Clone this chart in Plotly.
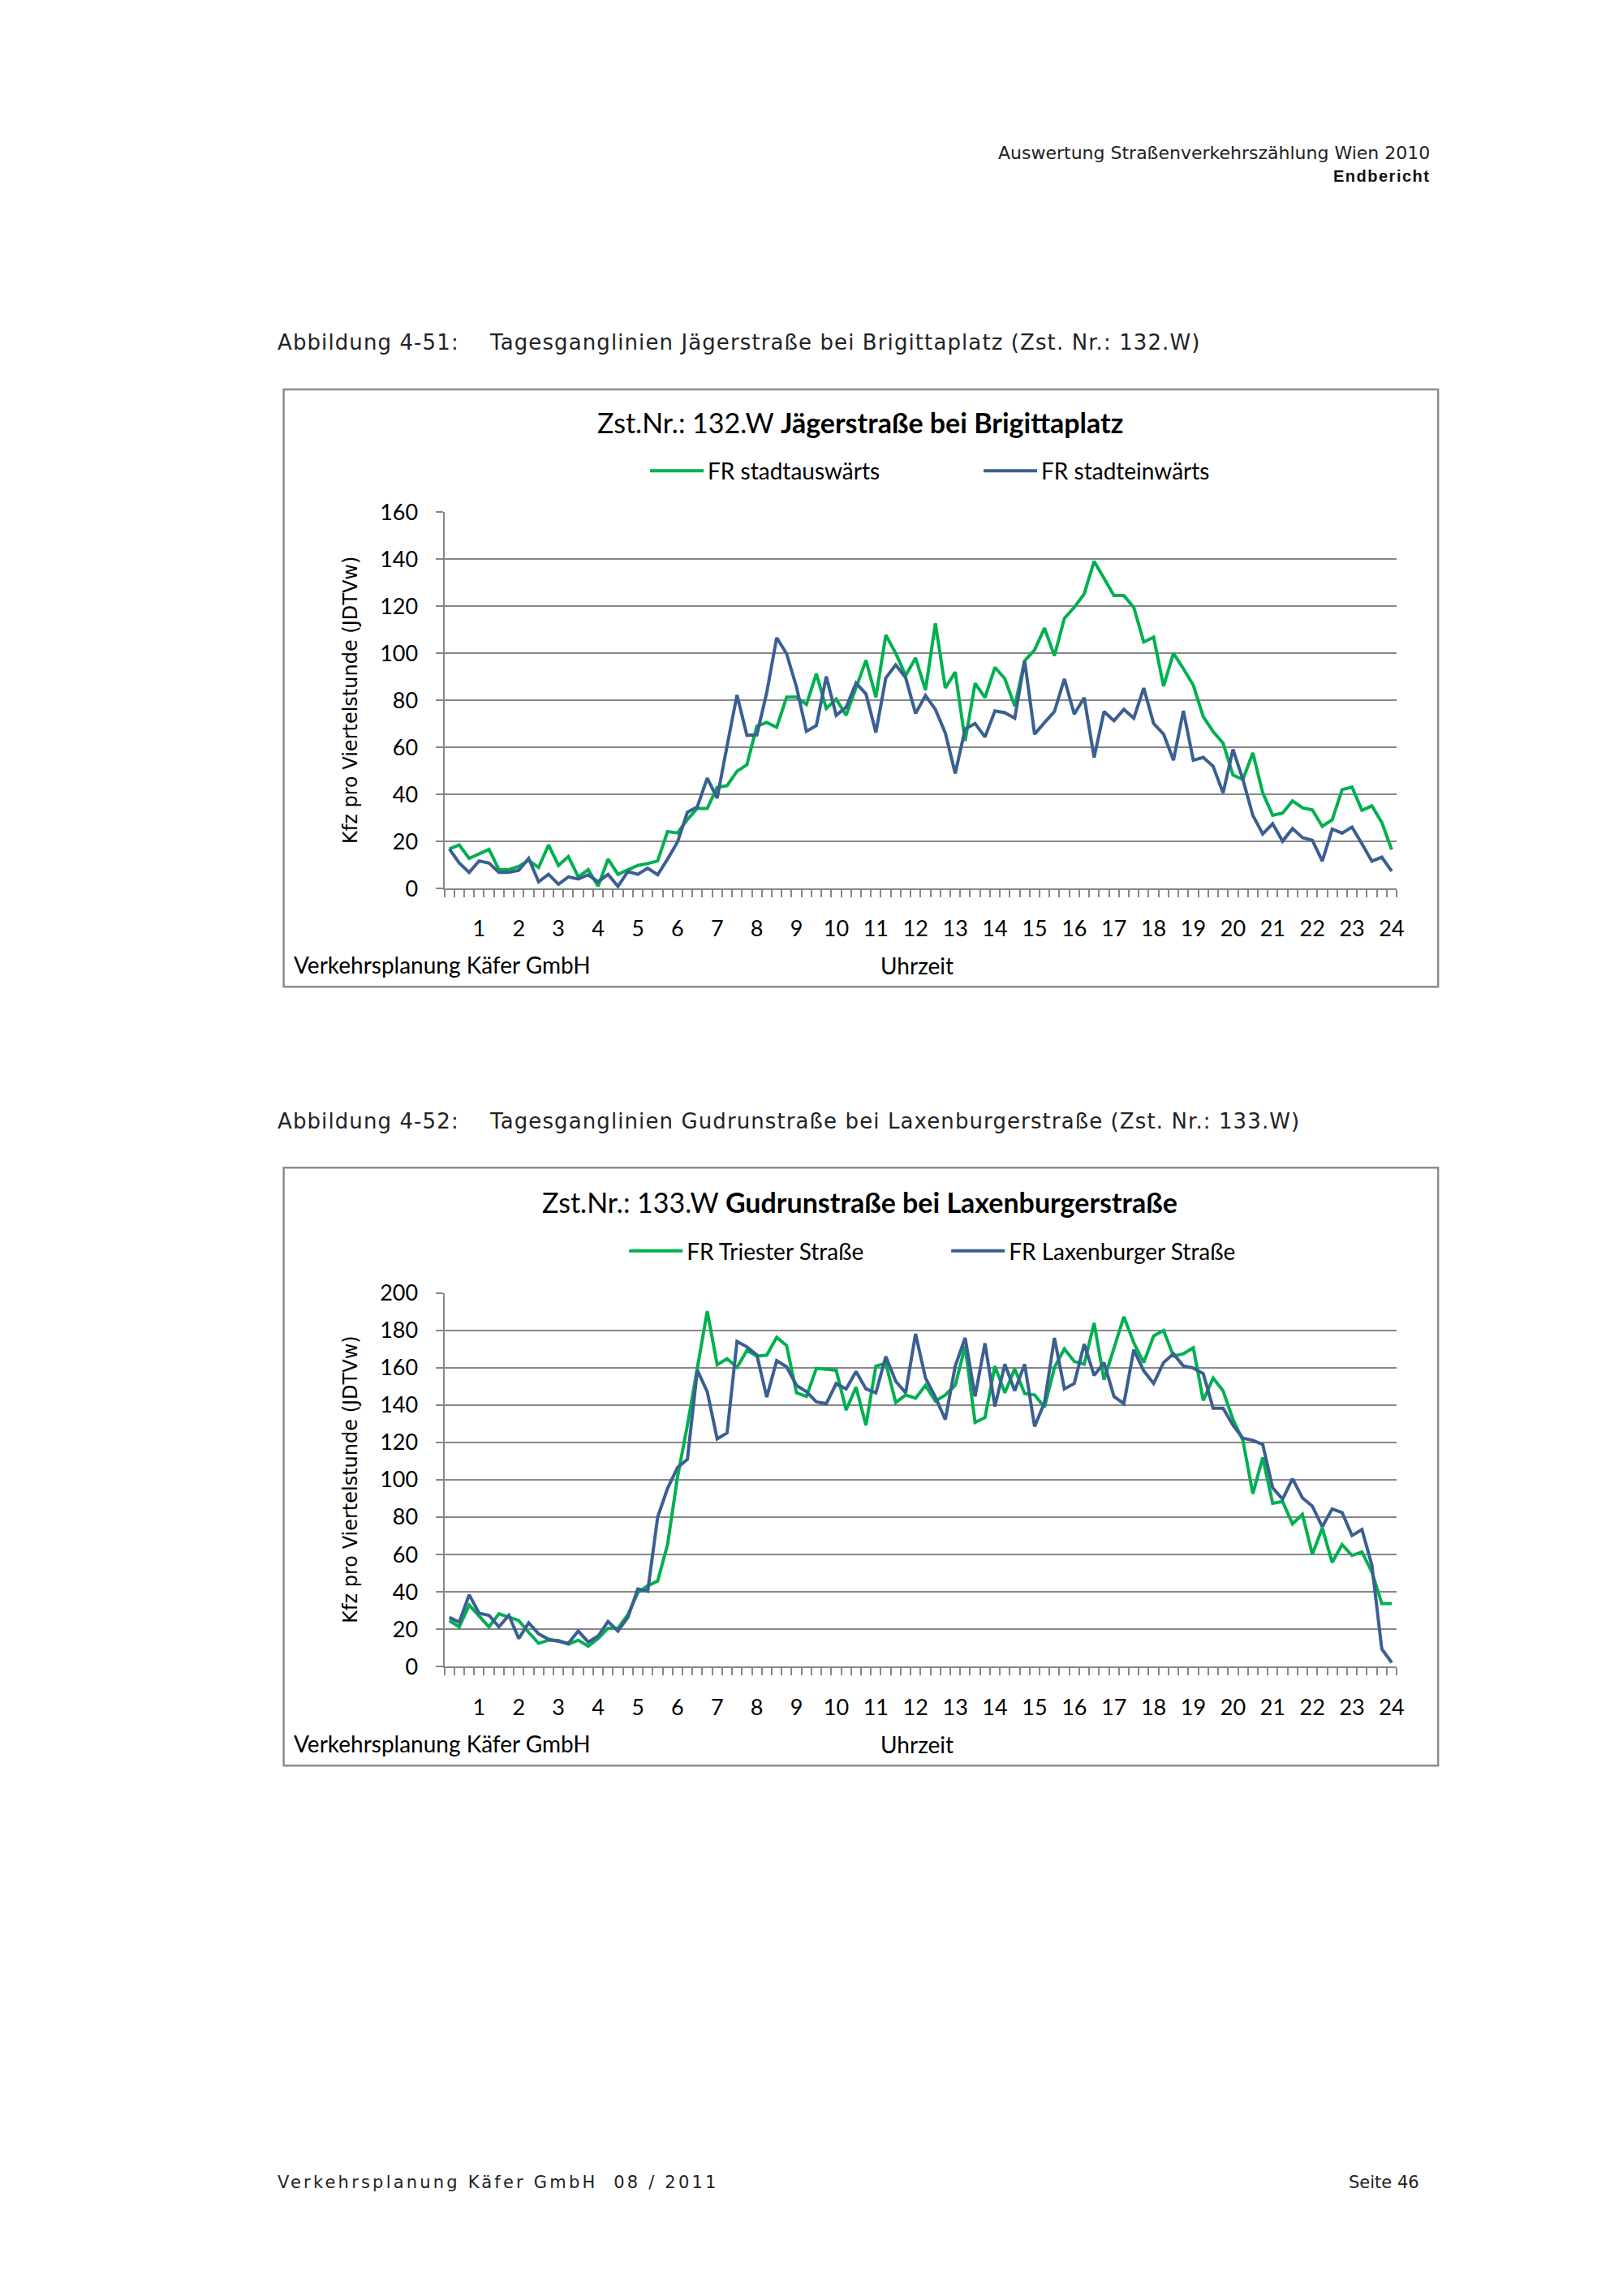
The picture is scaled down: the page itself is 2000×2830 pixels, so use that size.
import plotly.graph_objects as go

W, H = 2000, 2830

# ---------------- data (quarter hours 1..96) ----------------
quarters = list(range(1, 97))
hour_ticks = list(range(4, 97, 4))
hour_labels = [str(h) for h in range(1, 25)]

# Chart 1: Zst.Nr. 132.W Jägerstraße bei Brigittaplatz
stadtauswaerts = [16.8, 18.5, 12.8, 14.8, 16.6, 8, 8, 9.4, 12, 8.9, 18.5, 9.8, 13.6, 4.9, 8, 1,
                  12.5, 6, 8, 9.8, 10.6, 11.7, 24.2, 23.6, 29.3, 34, 34, 43, 43.7, 49.8, 52.6, 69,
                  70.6, 68.5, 81.3, 81.3, 78.2, 91.3, 76.5, 80.5, 73.6, 85.6, 97, 81.3, 107.7, 100, 90.5, 98,
                  84.3, 112.7, 85.2, 92, 62.7, 87.2, 81.1, 94, 89.2, 77.5, 96.8, 101.4, 110.7, 98.9,
                  114.8, 119.5, 125.2, 139.1, 131.8, 124.5, 124.5, 119.5, 104.8, 106.8, 86, 100, 93.4, 86.4,
                  73, 66.7, 61.8, 48.2, 46.3, 57.6, 40.6, 31.1, 32, 37.2, 34.3, 33.4, 26.4, 29.2,
                  42, 43.1, 33.2, 35.1, 28.1, 16.5]
stadteinwaerts = [16.8, 10.8, 6.8, 11.7, 10.8, 6.8, 6.8, 7.7, 12.8, 2.8, 6, 1.8, 4.9, 4, 5.8, 2.8,
                  6, 0.9, 7.2, 6, 8.6, 5.8, 12.5, 19.7, 32.4, 34.7, 46.9, 38.4, 60.6, 82.2, 65.1, 65.3,
                  83.3, 106.6, 99.8, 85.6, 66.8, 69.3, 90.1, 73.6, 77, 87.3, 82.7, 66.3, 89.5, 95, 89.6, 74.4,
                  82, 76.1, 66.1, 48.9, 67.8, 70.1, 64.4, 75.5, 74.7, 72.4, 96.8, 65.6, 70.5, 75.2,
                  89.1, 74.1, 81.1, 55.7, 75.2, 71.3, 76.1, 72.4, 85.2, 70.1, 65.6, 54.5, 75.5, 54.5,
                  55.7, 51.9, 40.6, 59.1, 46.3, 31.1, 23.2, 27.5, 20.1, 25.5, 21.6, 20.5, 11.6, 25.2,
                  23.5, 26.1, 19, 11.6, 13.3, 7.3]

# Chart 2: Zst.Nr. 133.W Gudrunstraße bei Laxenburgerstraße
triester = [24.7, 21.3, 33, 27.2, 21.3, 28.3, 26.4, 24.7, 18.4, 12.5, 14.2, 14, 12, 14.2, 11, 15.1,
            20.6, 20.6, 27.9, 39.6, 43.3, 45.8, 65.3, 101.3, 129.2, 158.6, 190.2, 161.5, 164.8, 160.1, 169.2, 166.2,
            166.7, 176.2, 171.8, 146.5, 144.6, 159.6, 158.9, 158.6, 137.3, 149.5, 129.2, 160.8, 162.3, 141.3, 145.4, 143.6,
            150.5, 142.1, 145.4, 150.5, 171.5, 130.7, 133.3, 160.8, 146.5, 159.3, 146.1, 145.4, 138.8, 160.1,
            170, 163.3, 161.8, 183.8, 153.5, 170.6, 187.2, 173.3, 162.7, 176.9, 179.9, 166.2, 167.4, 170.6,
            142.4, 154.4, 147.6, 132.2, 121.1, 92.5, 111.9, 87.4, 88.4, 76.4, 81.5, 60.2, 74.2, 55.8,
            65.3, 59.5, 61.4, 50.7, 33.8, 33.8]
laxenburger = [26.4, 23.8, 38.5, 28.6, 27.5, 21.3, 27.5, 15, 23.5, 17.6, 14.7, 13.7, 12.5, 19.1, 13.2, 16.4,
               24.2, 19.1, 26.4, 41.6, 40.4, 80, 95.4, 106.5, 110.9, 158.6, 147.1, 121.9, 125.1, 174, 171.1, 166.7,
               144.2, 163.7, 160.4, 150.5, 147.1, 141.7, 140.7, 151.5, 148.6, 157.9, 148.6, 146.5, 165.9, 152.7, 146.5, 178,
               154.5, 144.2, 132.2, 160.8, 175.9, 144.6, 173, 139.2, 161.8, 147.6, 161.8, 128.5, 141.3, 175.9,
               148.6, 151.5, 172.6, 155.8, 162.7, 144.6, 140.7, 169.6, 158.3, 151.5, 162.7, 167.4, 160.8, 159.8,
               156.8, 138.3, 138.3, 129.2, 122.2, 121.1, 118.9, 95.7, 89.6, 100.6, 90.3, 85.9, 74.9, 84.4,
               82.5, 70.2, 73.4, 54.3, 9.5, 2.2]

GREEN = "#00B050"
BLUE = "#3B5F92"
GRID = "#878787"
FONT = "Lato"


def px(x):
    return x / W


def py(y):
    return 1 - y / H


fig = go.Figure()
fig.add_trace(go.Scatter(x=quarters, y=stadtauswaerts, mode="lines", name="FR stadtauswärts",
                         line=dict(color=GREEN, width=4), xaxis="x", yaxis="y", legend="legend"))
fig.add_trace(go.Scatter(x=quarters, y=stadteinwaerts, mode="lines", name="FR stadteinwärts",
                         line=dict(color=BLUE, width=4), xaxis="x", yaxis="y", legend="legend"))
fig.add_trace(go.Scatter(x=quarters, y=triester, mode="lines", name="FR Triester Straße",
                         line=dict(color=GREEN, width=4), xaxis="x2", yaxis="y2", legend="legend2"))
fig.add_trace(go.Scatter(x=quarters, y=laxenburger, mode="lines", name="FR Laxenburger Straße",
                         line=dict(color=BLUE, width=4), xaxis="x2", yaxis="y2", legend="legend2"))

minor_vals = [i + 0.5 for i in range(0, 97)]

PLOT_X0, PLOT_X1 = 542.3, 1721.7


def xaxis_cfg(anchor):
    return dict(domain=[px(PLOT_X0), px(PLOT_X1)], anchor=anchor, range=[0.5, 96.5],
                tickmode="array", tickvals=hour_ticks, ticktext=hour_labels,
                ticks="outside", ticklen=8, tickcolor="rgba(0,0,0,0)",
                minor=dict(tickmode="array", tickvals=minor_vals, ticks="outside", ticklen=9,
                           tickcolor=GRID, tickwidth=2, showgrid=False),
                showline=True, linecolor=GRID, linewidth=2, showgrid=False, zeroline=False,
                tickfont=dict(family=FONT, size=27, color="#000"), ticklabelstandoff=17)


def yaxis_cfg(anchor, dom, top):
    return dict(domain=dom, anchor=anchor, range=[0, top], tickmode="linear", tick0=0, dtick=20,
                ticks="outside", ticklen=9, tickcolor=GRID, tickwidth=2,
                showgrid=True, gridcolor=GRID, gridwidth=2,
                showline=True, linecolor=GRID, linewidth=2, zeroline=False,
                tickfont=dict(family=FONT, size=27, color="#000"), ticklabelstandoff=16)


fig.update_layout(
    width=W, height=H, margin=dict(l=0, r=0, t=0, b=0),
    paper_bgcolor="white", plot_bgcolor="white",
    xaxis=xaxis_cfg("y"),
    yaxis=yaxis_cfg("x", [py(1081.7), py(612.3)], 160),
    xaxis2=xaxis_cfg("y2"),
    yaxis2=yaxis_cfg("x2", [py(2052.3), py(1586)], 200),
    legend=dict(orientation="h", x=px(792), y=py(561), xanchor="left", yanchor="middle",
                font=dict(family=FONT, size=28, color="#000"), itemwidth=66,
                entrywidth=330, bgcolor="rgba(0,0,0,0)"),
    legend2=dict(orientation="h", x=px(766), y=py(1534), xanchor="left", yanchor="middle",
                 font=dict(family=FONT, size=28, color="#000"), itemwidth=66,
                 entrywidth=316, bgcolor="rgba(0,0,0,0)"),
    showlegend=True,
)

# chart frames
for (top, bottom) in [(459.3, 1204.3), (1430, 2175.7)]:
    fig.add_shape(type="rect", xref="paper", yref="paper", x0=px(343.3), x1=px(1773),
                  y0=py(bottom), y1=py(top), line=dict(color="#8C8C8C", width=2.5))

ann = []


def add_text(text, x, y, xanchor="left", size=26, family=FONT, color="#000", angle=0):
    ann.append(dict(text=text, x=px(x), y=py(y), xref="paper", yref="paper", xanchor=xanchor,
                    yanchor="middle", showarrow=False, textangle=angle,
                    font=dict(family=family, size=size, color=color)))


# page header / footer
add_text("Auswertung Straßenverkehrszählung Wien 2010", 1765, 164, "right", 22, "DejaVu Sans", "#222")
add_text("<b><span style='letter-spacing:1.5px'>Endbericht</span></b>", 1765, 193, "right", 20,
         "Liberation Sans Narrow, Liberation Sans", "#111")
add_text("<span style='letter-spacing:3.2px'>Verkehrsplanung Käfer GmbH  08 / 2011</span>", 334, 2695,
         "left", 21, "DejaVu Sans", "#222")
add_text("Seite 46", 1752, 2695, "right", 21, "DejaVu Sans", "#222")

# figure captions
CAP = "<span style='letter-spacing:1.1px'>%s</span>"
add_text(CAP % "Abbildung 4-51:", 334, 401, "left", 26, "DejaVu Sans", "#222")
add_text(CAP % "Tagesganglinien Jägerstraße bei Brigittaplatz (Zst. Nr.: 132.W)", 596, 401, "left", 26,
         "DejaVu Sans", "#222")
add_text(CAP % "Abbildung 4-52:", 334, 1372, "left", 26, "DejaVu Sans", "#222")
add_text(CAP % "Tagesganglinien Gudrunstraße bei Laxenburgerstraße (Zst. Nr.: 133.W)", 596, 1372, "left", 26,
         "DejaVu Sans", "#222")

# chart titles
add_text("Zst.Nr.: 132.W <b>Jägerstraße bei Brigittaplatz</b>", 1057, 500, "center", 34)
add_text("Zst.Nr.: 133.W <b>Gudrunstraße bei Laxenburgerstraße</b>", 1057, 1473, "center", 34)

# y axis titles
add_text("Kfz pro Viertelstunde (JDTVw)", 426, 847, "center", 24, "DejaVu Sans", "#000", -90)
add_text("Kfz pro Viertelstunde (JDTVw)", 426, 1819, "center", 24, "DejaVu Sans", "#000", -90)

# bottom texts
add_text("Verkehrsplanung Käfer GmbH", 354, 1177, "left", 28)
add_text("Uhrzeit", 1128, 1178, "center", 28)
add_text("Verkehrsplanung Käfer GmbH", 354, 2148, "left", 28)
add_text("Uhrzeit", 1128, 2149, "center", 28)

fig.update_layout(annotations=ann)

fig.write_html("out.html")
